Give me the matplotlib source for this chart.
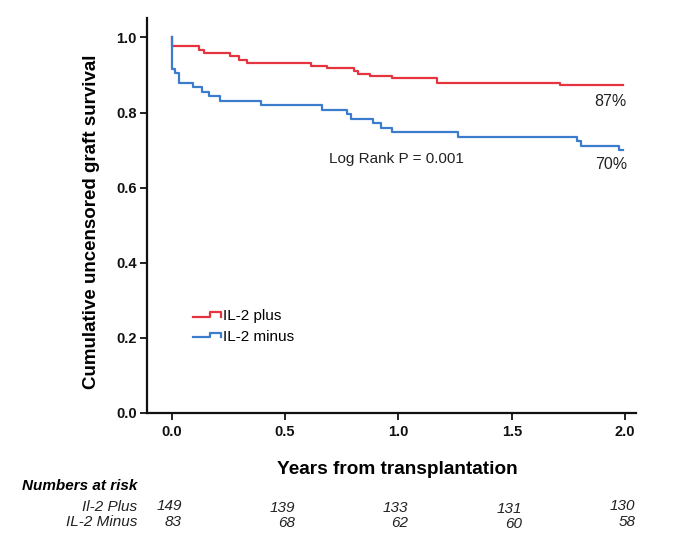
import matplotlib
matplotlib.use("Agg")
import matplotlib.pyplot as plt
from matplotlib.legend_handler import HandlerLine2D
from matplotlib.lines import Line2D

plt.rcParams['font.family'] = ['Liberation Sans', 'DejaVu Sans']

# Kaplan-Meier step points (years, survival)
plus_t = [0.0, 0.003, 0.122, 0.142, 0.257, 0.296, 0.333, 0.614, 0.687, 0.805,
          0.824, 0.875, 0.972, 1.171, 1.712, 1.99]
plus_s = [1.0, 0.976, 0.967, 0.959, 0.951, 0.941, 0.933, 0.925, 0.919, 0.910,
          0.903, 0.898, 0.892, 0.880, 0.873, 0.873]
minus_t = [0.0, 0.002, 0.016, 0.034, 0.094, 0.134, 0.164, 0.215, 0.392, 0.662,
           0.773, 0.790, 0.889, 0.923, 0.972, 1.262, 1.789, 1.804, 1.975, 1.99]
minus_s = [1.0, 0.915, 0.905, 0.879, 0.868, 0.856, 0.844, 0.832, 0.819, 0.806,
           0.795, 0.784, 0.772, 0.759, 0.747, 0.736, 0.724, 0.712, 0.699, 0.699]

risk_times = [0.0, 0.5, 1.0, 1.5, 2.0]
risk_plus = [149, 139, 133, 131, 130]
risk_minus = [83, 68, 62, 60, 58]

RED = '#e5343f'
BLUE = '#3b7ccc'


class StepHandler(HandlerLine2D):
    # little step-shaped legend key like the SPSS output
    def create_artists(self, legend, orig_handle, xdescent, ydescent,
                       width, height, fontsize, trans):
        lo = height * 0.3 - ydescent
        hi = height * 0.75 - ydescent
        xs = [-xdescent, -xdescent + width * 0.55, -xdescent + width * 0.55,
              -xdescent + width * 0.92, -xdescent + width * 0.92]
        ys = [lo, lo, hi, hi, lo]
        ln = Line2D(xs, ys, color=orig_handle.get_color(),
                    lw=orig_handle.get_linewidth(), transform=trans)
        return [ln]


fig = plt.figure(figsize=(6.85, 5.55), dpi=100)
ax = fig.add_axes([0.2142, 0.2564, 0.7143, 0.7112])

l1, = ax.step(plus_t, plus_s, where='post', color=RED, lw=1.6, label='IL-2 plus')
l2, = ax.step(minus_t, minus_s, where='post', color=BLUE, lw=1.6, label='IL-2 minus')

ax.set_xlim(-0.11, 2.048)
ax.set_ylim(0, 1.052)
ax.set_xticks([0.0, 0.5, 1.0, 1.5, 2.0])
ax.set_yticks([0.0, 0.2, 0.4, 0.6, 0.8, 1.0])
ax.xaxis.set_major_formatter(matplotlib.ticker.FormatStrFormatter('%.1f'))
ax.yaxis.set_major_formatter(matplotlib.ticker.FormatStrFormatter('%.1f'))
for s in ['top', 'right']:
    ax.spines[s].set_visible(False)
for s in ['left', 'bottom']:
    ax.spines[s].set_linewidth(1.6)
    ax.spines[s].set_color('#111111')
ax.tick_params(axis='both', direction='out', length=4.8, width=1.3,
               labelsize=10.5, colors='#111111')
ax.tick_params(axis='x', pad=4)
ax.tick_params(axis='y', pad=2.5)
for lab in ax.get_xticklabels() + ax.get_yticklabels():
    lab.set_fontweight('bold')

ax.set_ylabel('Cumulative uncensored graft survival', fontsize=13.5, fontweight='bold')
ax.yaxis.set_label_coords(-0.095, 0.485)
fig.text(0.580, 1 - 470 / 555, 'Years from transplantation', fontsize=13.7,
         fontweight='bold', ha='center', va='center')

ax.text(1.937, 0.830, '87%', fontsize=11.5, ha='center', va='center', color='#222222')
ax.text(1.937, 0.662, '70%', fontsize=11.5, ha='center', va='center', color='#222222')
ax.text(0.692, 0.676, 'Log Rank P = 0.001', fontsize=11, ha='left', va='center',
        color='#222222')

ax.legend(handles=[l1, l2], loc='center left', bbox_to_anchor=(0.094, 0.219),
          frameon=False, fontsize=11, handlelength=2.0, handletextpad=0.0,
          labelspacing=0.45, borderpad=0, borderaxespad=0,
          handler_map={Line2D: StepHandler()})

# numbers at risk table
fig.text(22 / 685, 1 - 485.7 / 555, 'Numbers at risk', fontsize=11,
         fontweight='bold', style='italic', ha='left', va='center')
fig.text(137 / 685, 1 - 506.7 / 555, 'Il-2 Plus', fontsize=11, style='italic',
         ha='right', va='center', color='#222222')
fig.text(137 / 685, 1 - 521.7 / 555, 'IL-2 Minus', fontsize=11, style='italic',
         ha='right', va='center', color='#222222')
trans = matplotlib.transforms.blended_transform_factory(ax.transData, fig.transFigure)
row_jitter = [0.0, 1.5, 1.5, 2.5, 0.0]
for t, p, m, j in zip(risk_times, risk_plus, risk_minus, row_jitter):
    ax.text(t + 0.045, 1 - (506.5 + j) / 555, str(p), fontsize=11, style='italic',
            ha='right', va='center', transform=trans, color='#222222')
    ax.text(t + 0.045, 1 - (521.7 + j) / 555, str(m), fontsize=11, style='italic',
            ha='right', va='center', transform=trans, color='#222222')

fig.savefig('out.png', dpi=100)
